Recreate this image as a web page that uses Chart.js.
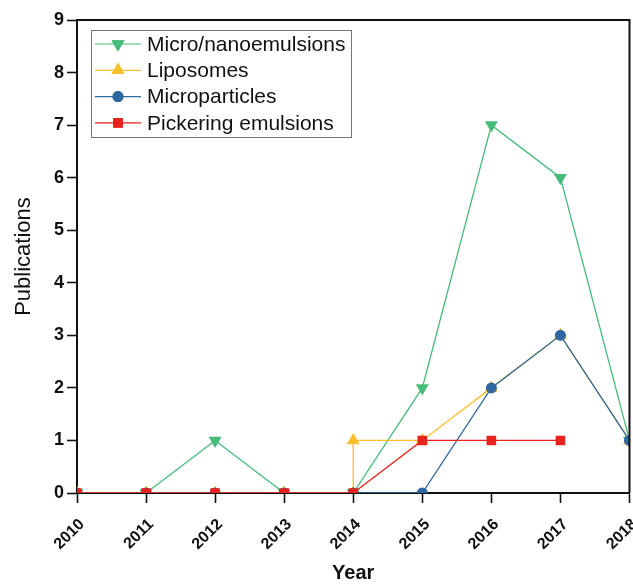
<!DOCTYPE html>
<html>
<head>
<meta charset="utf-8">
<script src="https://cdn.jsdelivr.net/npm/chart.js@4.4.0/dist/chart.umd.min.js"></script>
<style>
  html, body { margin: 0; padding: 0; background: #fff; overflow: hidden; }
  #wrap { width: 633px; height: 585px; overflow: hidden; }
</style>
</head>
<body>
<div id="wrap"><canvas id="pubChart" width="637" height="585"></canvas></div>
<script>
// Data
const years = [2010, 2011, 2012, 2013, 2014, 2015, 2016, 2017, 2018];
const nanoValues = [0, 0, 1, 0, 0, 2, 7, 6, 1];
// liposomes jump straight up at 2014, so 2014 shows twice
const liposomeYears = [2010, 2011, 2012, 2013, 2014, 2014, 2015, 2016, 2017, 2018];
const liposomeValues = [0, 0, 0, 0, 0, 1, 1, 2, 3, 1];
const microValues = [0, 0, 0, 0, 0, 0, 2, 3, 1];
const pickeringYears = [2010, 2011, 2012, 2013, 2014, 2015, 2016, 2017];
const pickeringValues = [0, 0, 0, 0, 0, 1, 1, 1];
const yTicks = [0, 1, 2, 3, 4, 5, 6, 7, 8, 9];

function toPoints(xs, ys) {
  return xs.map((x, i) => ({ x: x, y: ys[i] }));
}

const series = [
  { label: "Micro/nanoemulsions", color: "#47bb79", style: "triangle", rot: 180, radius: 7.5, order: 4,
    data: toPoints(years, nanoValues) },
  { label: "Liposomes", color: "#f9bf2c", style: "triangle", rot: 0, radius: 7.5, order: 3,
    data: toPoints(liposomeYears, liposomeValues) },
  { label: "Microparticles", color: "#2f67a0", style: "circle", rot: 0, radius: 5.5, order: 2,
    data: toPoints(years, microValues) },
  { label: "Pickering emulsions", color: "#e8231f", style: "rect", rot: 0, radius: 6.8, order: 1,
    data: toPoints(pickeringYears, pickeringValues) }
];

const FONT = "'Liberation Sans', Arial, sans-serif";

// frame around plot + boxed legend inside
const framePlugin = {
  id: "frame",
  afterDatasetsDraw(chart) {
    const { ctx, chartArea: a } = chart;
    ctx.save();
    ctx.strokeStyle = "#111";
    ctx.lineWidth = 2;
    ctx.beginPath();
    ctx.moveTo(a.left, a.top);
    ctx.lineTo(a.right, a.top);
    ctx.lineTo(a.right, a.bottom);
    ctx.stroke();

    // legend
    const bx = 91, by = 30, bw = 260, bh = 107;
    ctx.fillStyle = "#fff";
    ctx.fillRect(bx, by, bw, bh);
    ctx.strokeStyle = "#777";
    ctx.lineWidth = 1;
    ctx.strokeRect(bx + 0.5, by + 0.5, bw, bh);
    ctx.font = "21px " + FONT;
    ctx.textBaseline = "middle";
    series.forEach((s, i) => {
      const y = 44 + i * 26.3;
      ctx.strokeStyle = s.color;
      ctx.lineWidth = 1.2;
      ctx.beginPath();
      ctx.moveTo(95, y);
      ctx.lineTo(141, y);
      ctx.stroke();
      ctx.fillStyle = s.color;
      Chart.helpers.drawPoint(ctx, { pointStyle: s.style, rotation: s.rot, radius: s.radius, borderWidth: 0 }, 118, y);
      ctx.fill();
      ctx.fillStyle = "#111";
      ctx.fillText(s.label, 147, y + 1);
    });
    ctx.restore();
  }
};

const axisGrid = {
  display: true,
  drawOnChartArea: false,
  drawTicks: true,
  tickLength: 10,
  tickColor: "#111",
  tickWidth: 1.6
};

const ctx = document.getElementById("pubChart").getContext("2d");
new Chart(ctx, {
  type: "line",
  data: {
    datasets: series.map(s => ({
      label: s.label,
      data: s.data,
      order: s.order,
      borderColor: s.color,
      backgroundColor: s.color,
      borderWidth: 1.3,
      pointStyle: s.style,
      pointRotation: s.rot,
      pointRadius: s.radius,
      pointBorderWidth: 0,
      pointBackgroundColor: s.color,
      tension: 0,
      fill: false
    }))
  },
  options: {
    responsive: false,
    animation: false,
    layout: { padding: { top: 20, right: 0, left: 0, bottom: 0 } },
    plugins: { legend: { display: false }, tooltip: { enabled: false } },
    scales: {
      x: {
        type: "linear",
        min: 2010,
        max: 2018,
        afterBuildTicks(scale) { scale.ticks = years.map(v => ({ value: v })); },
        afterFit(scale) {
          scale.height = 92;
          scale.paddingLeft = 0;
          scale.paddingRight = 0;
        },
        grid: axisGrid,
        border: { display: true, color: "#111", width: 2 },
        ticks: {
          color: "#111",
          font: { family: FONT, size: 16, weight: "bold" },
          minRotation: 45,
          maxRotation: 45,
          padding: 12,
          labelOffset: 5,
          callback: v => String(v)
        },
        title: {
          display: true,
          text: "Year",
          color: "#111",
          font: { family: FONT, size: 20, weight: "bold" },
          padding: { top: 4, bottom: 0 }
        }
      },
      y: {
        min: 0,
        max: 9,
        afterBuildTicks(scale) { scale.ticks = yTicks.map(v => ({ value: v })); },
        afterFit(scale) { scale.width = 77; },
        grid: axisGrid,
        border: { display: true, color: "#111", width: 2 },
        ticks: {
          color: "#111",
          font: { family: FONT, size: 18, weight: "bold" },
          padding: 3
        },
        title: {
          display: true,
          text: "Publications",
          color: "#111",
          font: { family: FONT, size: 22 },
          padding: { top: 11, bottom: 0 }
        }
      }
    }
  },
  plugins: [framePlugin]
});
</script>
</body>
</html>
